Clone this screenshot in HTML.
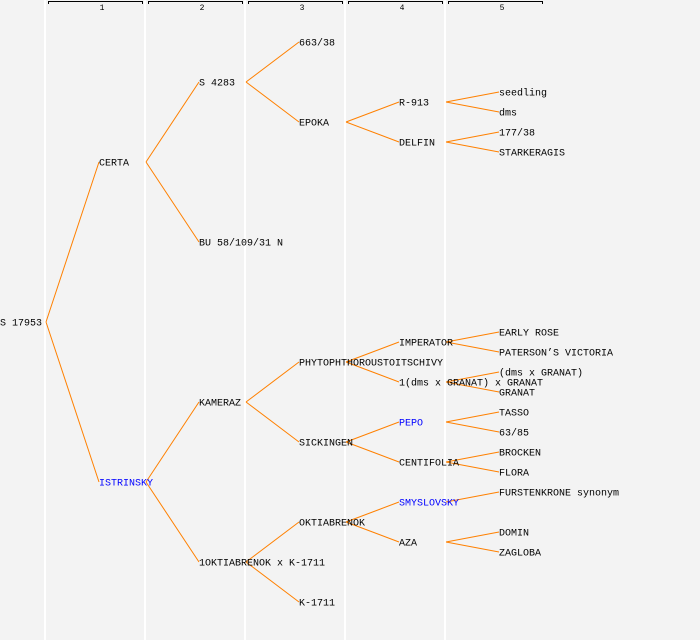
<!DOCTYPE html>
<html><head><style>body{margin:0;background:#f3f3f3}svg{display:block}</style></head><body>
<svg width="700" height="640" xmlns="http://www.w3.org/2000/svg" font-family="Liberation Mono, monospace" font-size="10">
<rect width="700" height="640" fill="#f3f3f3"/>
<g fill="#fff"><rect x="44" y="0" width="2" height="640"/><rect x="144" y="0" width="2" height="640"/><rect x="244" y="0" width="2" height="640"/><rect x="344" y="0" width="2" height="640"/><rect x="444" y="0" width="2" height="640"/></g>
<g stroke="#000" fill="none" stroke-width="1">
<path d="M48.5 4V1.5H142.5V4"/><path d="M148.5 4V1.5H242.5V4"/><path d="M248.5 4V1.5H342.5V4"/><path d="M348.5 4V1.5H442.5V4"/><path d="M448.5 4V1.5H542.5V4"/>
</g>
<g font-size="8" text-anchor="middle"><text x="102" y="10">1</text><text x="202" y="10">2</text><text x="302" y="10">3</text><text x="402" y="10">4</text><text x="502" y="10">5</text></g>
<g stroke="#ff8000" stroke-width="1" fill="none">
<path d="M46 322L99 162M46 322L99 482"/>
<path d="M146 162L199 82M146 162L199 242M146 482L199 402M146 482L199 562"/>
<path d="M246 82L299 42M246 82L299 122M246 402L299 362M246 402L299 442M246 562L299 522M246 562L299 602"/>
<path d="M346 122L399 102M346 122L399 142M346 362L399 342M346 362L399 382M346 442L399 422M346 442L399 462M346 522L399 502M346 522L399 542"/>
<path d="M446 102L499 92M446 102L499 112M446 142L499 132M446 142L499 152M446 342L499 332M446 342L499 352M446 382L499 372M446 382L499 392M446 422L499 412M446 422L499 432M446 462L499 452M446 462L499 472M446 502L499 492M446 542L499 532M446 542L499 552"/>
</g>
<g fill="#000" dominant-baseline="central" transform="translate(0,2)">
<text x="0" y="322">S 17953</text>
<text x="99" y="162">CERTA</text>
<text x="99" y="482" fill="#0000ff">ISTRINSKY</text>
<text x="199" y="82">S 4283</text>
<text x="199" y="242">BU 58/109/31 N</text>
<text x="199" y="402">KAMERAZ</text>
<text x="199" y="562">1OKTIABRENOK x K-1711</text>
<text x="299" y="42">663/38</text>
<text x="299" y="122">EPOKA</text>
<text x="299" y="362">PHYTOPHTHOROUSTOITSCHIVY</text>
<text x="299" y="442">SICKINGEN</text>
<text x="299" y="522">OKTIABRENOK</text>
<text x="299" y="602">K-1711</text>
<text x="399" y="102">R-913</text>
<text x="399" y="142">DELFIN</text>
<text x="399" y="342">IMPERATOR</text>
<text x="399" y="382">1(dms x GRANAT) x GRANAT</text>
<text x="399" y="422" fill="#0000ff">PEPO</text>
<text x="399" y="462">CENTIFOLIA</text>
<text x="399" y="502" fill="#0000ff">SMYSLOVSKY</text>
<text x="399" y="542">AZA</text>
<text x="499" y="92">seedling</text>
<text x="499" y="112">dms</text>
<text x="499" y="132">177/38</text>
<text x="499" y="152">STARKERAGIS</text>
<text x="499" y="332">EARLY ROSE</text>
<text x="499" y="352">PATERSON’S VICTORIA</text>
<text x="499" y="372">(dms x GRANAT)</text>
<text x="499" y="392">GRANAT</text>
<text x="499" y="412">TASSO</text>
<text x="499" y="432">63/85</text>
<text x="499" y="452">BROCKEN</text>
<text x="499" y="472">FLORA</text>
<text x="499" y="492">FURSTENKRONE synonym</text>
<text x="499" y="532">DOMIN</text>
<text x="499" y="552">ZAGLOBA</text>
</g>
</svg>
</body></html>
